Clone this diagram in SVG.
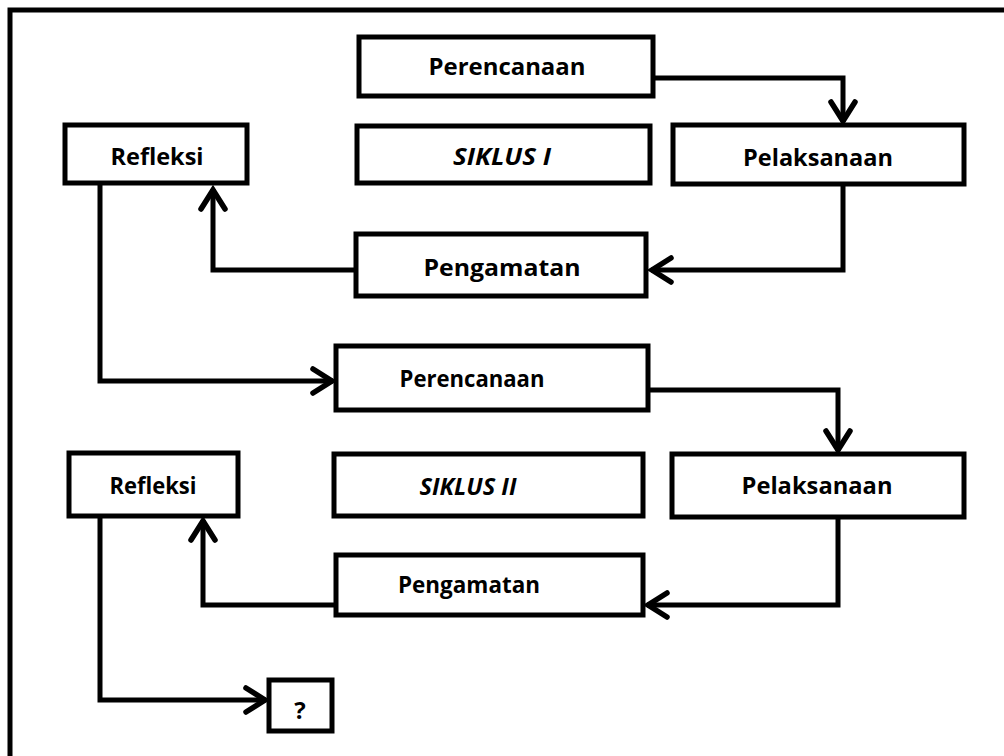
<svg xmlns="http://www.w3.org/2000/svg" width="1004" height="756" viewBox="0 0 1004 756">
<style>
.box{fill:#fff;stroke:#000;stroke-width:5}
.lbl{font-family:"Open Sans","Liberation Sans",sans-serif;font-weight:bold;font-size:24px;fill:#000}
.it{font-style:italic}
.con{fill:none;stroke:#000;stroke-width:5}
</style>
<defs>
<marker id="chev" markerUnits="userSpaceOnUse" markerWidth="40" markerHeight="40" viewBox="-25 -20 30 40" refX="0" refY="0" orient="auto">
<path d="M -20 -12 L -1 0 L -20 12" fill="none" stroke="#000" stroke-width="5.5" stroke-linecap="round" stroke-linejoin="miter"/>
</marker>
</defs>
<rect x="0" y="0" width="1004" height="756" fill="#fff"/>
<path id="frame" d="M 10 1010 L 10 10 L 1010 10" fill="none" stroke="#000" stroke-width="5"/>
<g id="connectors">
<path class="con" d="M 653 78 L 843 78 L 843 122" marker-end="url(#chev)"/>
<path class="con" d="M 843 184 L 843 270 L 651 270" marker-end="url(#chev)"/>
<path class="con" d="M 356 270 L 213 270 L 213 189" marker-end="url(#chev)"/>
<path class="con" d="M 100 185 L 100 381 L 333 381" marker-end="url(#chev)"/>
<path class="con" d="M 648 390 L 838 390 L 838 451" marker-end="url(#chev)"/>
<path class="con" d="M 838 517 L 838 605 L 647 605" marker-end="url(#chev)"/>
<path class="con" d="M 336 605 L 203 605 L 203 520" marker-end="url(#chev)"/>
<path class="con" d="M 100 516 L 100 700 L 266 700" marker-end="url(#chev)"/>
</g>
<g id="perencanaan1"><rect class="box" x="359" y="37" width="294" height="59"/><text class="lbl" x="507" y="75" text-anchor="middle" textLength="157" lengthAdjust="spacingAndGlyphs">Perencanaan</text></g>
<g id="refleksi1"><rect class="box" x="65" y="125" width="182" height="58"/><text class="lbl" x="157" y="165" text-anchor="middle" textLength="93" lengthAdjust="spacingAndGlyphs">Refleksi</text></g>
<g id="siklus1"><rect class="box" x="357" y="126" width="293" height="57"/><text class="lbl it" x="502" y="165" text-anchor="middle" textLength="98" lengthAdjust="spacingAndGlyphs">SIKLUS I</text></g>
<g id="pelaksanaan1"><rect class="box" x="673" y="125" width="291" height="59"/><text class="lbl" x="818" y="166" text-anchor="middle" textLength="150" lengthAdjust="spacingAndGlyphs">Pelaksanaan</text></g>
<g id="pengamatan1"><rect class="box" x="356" y="234" width="290" height="62"/><text class="lbl" x="502" y="276" text-anchor="middle" textLength="157" lengthAdjust="spacingAndGlyphs">Pengamatan</text></g>
<g id="perencanaan2"><rect class="box" x="336" y="346" width="312" height="64"/><text class="lbl" x="472" y="387" text-anchor="middle" textLength="145" lengthAdjust="spacingAndGlyphs">Perencanaan</text></g>
<g id="refleksi2"><rect class="box" x="69" y="453" width="169" height="63"/><text class="lbl" x="153" y="494" text-anchor="middle" textLength="87" lengthAdjust="spacingAndGlyphs">Refleksi</text></g>
<g id="siklus2"><rect class="box" x="334" y="454" width="309" height="62"/><text class="lbl it" x="468" y="495" text-anchor="middle" textLength="97" lengthAdjust="spacingAndGlyphs">SIKLUS II</text></g>
<g id="pelaksanaan2"><rect class="box" x="672" y="454" width="292" height="63"/><text class="lbl" x="817" y="494" text-anchor="middle" textLength="151" lengthAdjust="spacingAndGlyphs">Pelaksanaan</text></g>
<g id="pengamatan2"><rect class="box" x="336" y="555" width="307" height="60"/><text class="lbl" x="469" y="593" text-anchor="middle" textLength="142" lengthAdjust="spacingAndGlyphs">Pengamatan</text></g>
<g id="tanya"><rect class="box" x="269" y="680" width="63" height="51"/><text class="lbl" x="300" y="719" text-anchor="middle">?</text></g>
</svg>
